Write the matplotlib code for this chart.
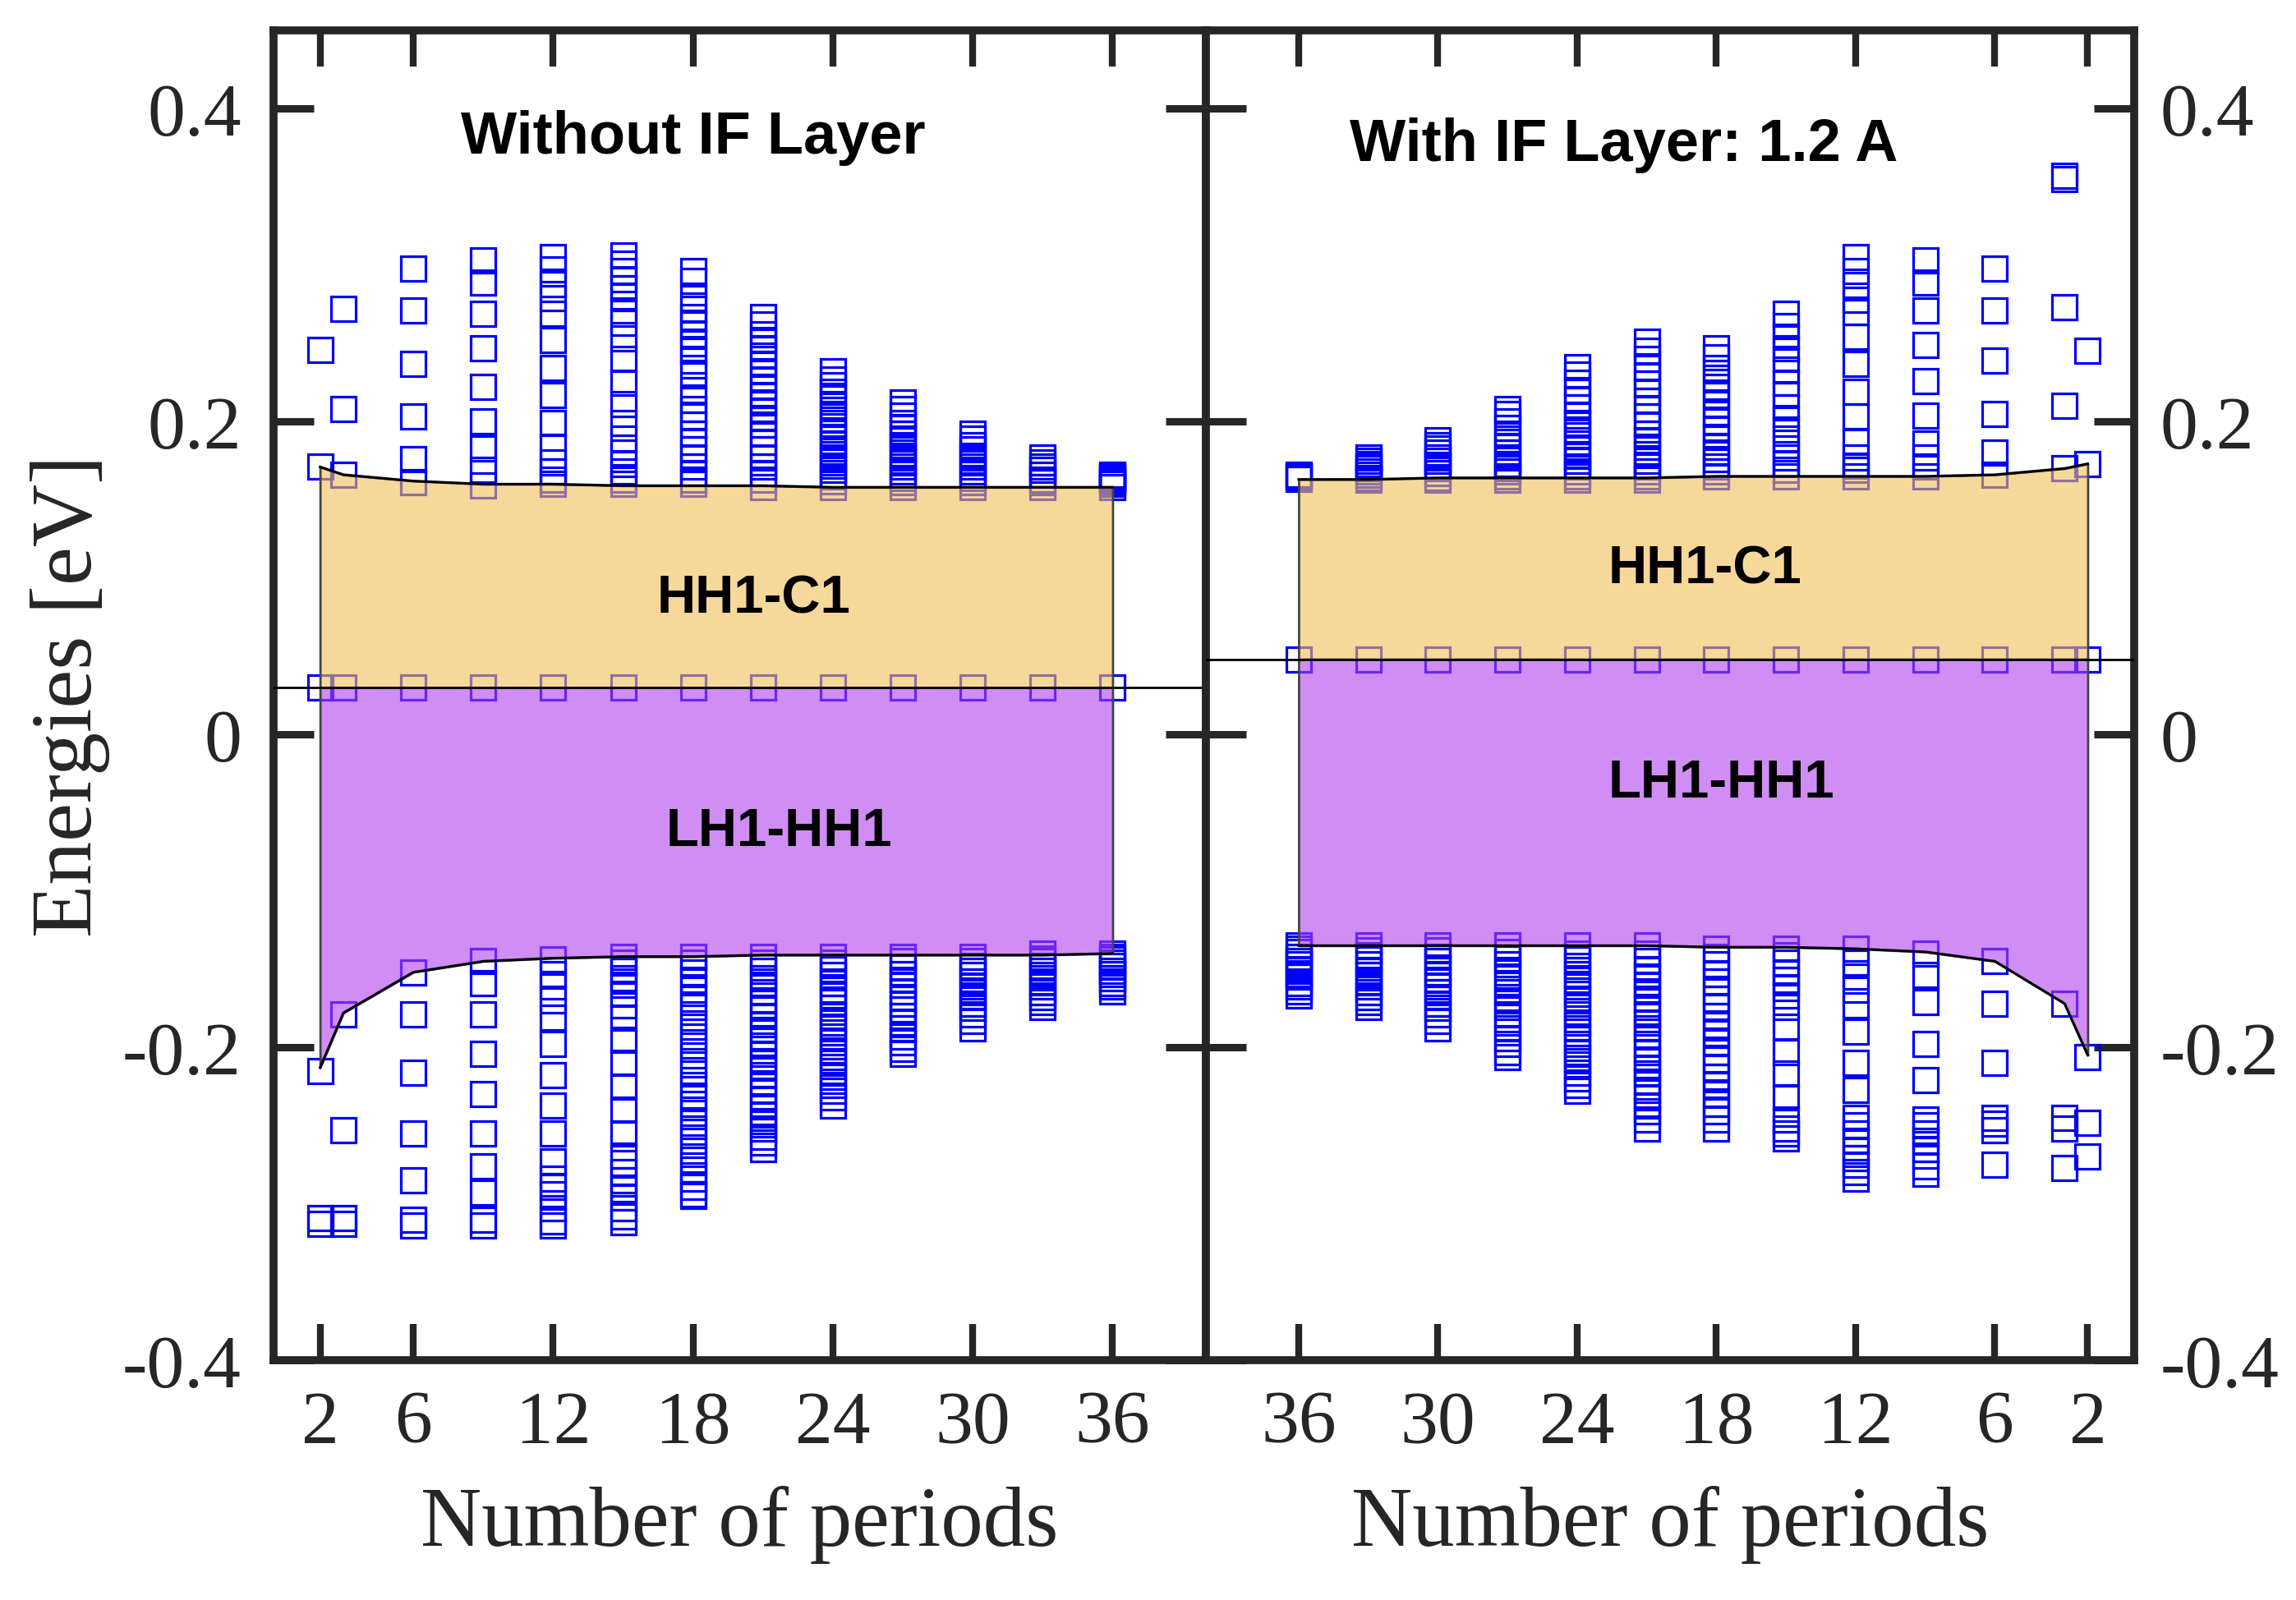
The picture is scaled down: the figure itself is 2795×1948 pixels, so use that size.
import matplotlib
matplotlib.use("Agg")
import matplotlib.pyplot as plt
from matplotlib.colors import to_rgba

plt.rcParams["font.family"] = ["Liberation Serif", "DejaVu Serif"]

# number of periods for each column of levels
periods = [2, 3, 6, 9, 12, 15, 18, 21, 24, 27, 30, 33, 36]
xtick_vals = [2, 6, 12, 18, 24, 30, 36]
ytick_vals = [-0.4, -0.2, 0, 0.2, 0.4]
ytick_labels = ["-0.4", "-0.2", "0", "0.2", "0.4"]

# ---- without IF layer ----
left_hh1 = 0.030
left_upper_edge = [0.171, 0.166, 0.162, 0.160, 0.160, 0.159, 0.159, 0.159, 0.158, 0.158, 0.158, 0.158, 0.158]
left_lower_edge = [-0.213, -0.178, -0.152, -0.145, -0.143, -0.142, -0.142, -0.141, -0.141, -0.141, -0.141, -0.141, -0.140]

left_upper = [
    [0.246, 0.171],
    [0.272, 0.208, 0.166],
    [0.298, 0.271, 0.237, 0.203, 0.176, 0.161],
    [0.303, 0.289, 0.269, 0.247, 0.222, 0.200, 0.183, 0.169, 0.159],
    [0.305, 0.297, 0.288, 0.279, 0.269, 0.252, 0.234, 0.217, 0.199, 0.184, 0.174, 0.168, 0.163, 0.160],
    [0.306, 0.301, 0.296, 0.291, 0.285, 0.280, 0.271, 0.263, 0.253, 0.240, 0.225, 0.211, 0.199, 0.189,
     0.180, 0.173, 0.168, 0.163, 0.160],
    [0.296, 0.290, 0.279, 0.272, 0.267, 0.262, 0.256, 0.250, 0.245, 0.239, 0.231, 0.220, 0.214, 0.208,
     0.203, 0.198, 0.192, 0.187, 0.182, 0.177, 0.171, 0.167, 0.163, 0.160],
    [0.267, 0.262, 0.256, 0.252, 0.247, 0.242, 0.237, 0.232, 0.227, 0.222, 0.217, 0.212, 0.207, 0.202,
     0.198, 0.192, 0.187, 0.182, 0.177, 0.171, 0.167, 0.163, 0.158],
    [0.232, 0.227, 0.223, 0.219, 0.215, 0.210, 0.205, 0.201, 0.197, 0.193, 0.190, 0.186, 0.183, 0.179,
     0.176, 0.172, 0.169, 0.165, 0.162, 0.158],
    [0.212, 0.208, 0.204, 0.199, 0.196, 0.192, 0.189, 0.185, 0.182, 0.178, 0.175, 0.171, 0.168, 0.164,
     0.161, 0.158],
    [0.192, 0.189, 0.185, 0.182, 0.178, 0.175, 0.171, 0.168, 0.164, 0.161, 0.158],
    [0.177, 0.174, 0.171, 0.169, 0.166, 0.163, 0.161, 0.158],
    [0.166, 0.1655, 0.1648, 0.1642, 0.1635, 0.1628, 0.1621, 0.161, 0.160, 0.158],
]

left_lower = [
    [-0.215, -0.309, -0.313],
    [-0.179, -0.253, -0.309, -0.313],
    [-0.152, -0.179, -0.216, -0.255, -0.285, -0.310, -0.314],
    [-0.145, -0.159, -0.179, -0.204, -0.230, -0.255, -0.276, -0.293, -0.310, -0.314],
    [-0.144, -0.153, -0.161, -0.170, -0.181, -0.198, -0.218, -0.237, -0.255, -0.273, -0.284, -0.289,
     -0.294, -0.303, -0.311, -0.314],
    [-0.142, -0.146, -0.151, -0.156, -0.160, -0.166, -0.173, -0.181, -0.195, -0.210, -0.225, -0.240,
     -0.255, -0.269, -0.274, -0.280, -0.285, -0.291, -0.296, -0.303, -0.308, -0.312],
    [-0.142, -0.146, -0.152, -0.157, -0.163, -0.169, -0.174, -0.181, -0.187, -0.193, -0.199, -0.205,
     -0.211, -0.217, -0.224, -0.231, -0.236, -0.242, -0.248, -0.254, -0.260, -0.266, -0.272, -0.278,
     -0.284, -0.289, -0.294, -0.295],
    [-0.142, -0.146, -0.151, -0.156, -0.160, -0.165, -0.170, -0.175, -0.180, -0.185, -0.189, -0.194,
     -0.199, -0.204, -0.209, -0.213, -0.218, -0.223, -0.228, -0.233, -0.238, -0.243, -0.247, -0.252,
     -0.257, -0.261, -0.265],
    [-0.142, -0.146, -0.150, -0.154, -0.159, -0.163, -0.167, -0.171, -0.175, -0.180, -0.184, -0.188,
     -0.193, -0.197, -0.202, -0.206, -0.210, -0.215, -0.219, -0.224, -0.228, -0.232, -0.237],
    [-0.142, -0.145, -0.149, -0.153, -0.157, -0.160, -0.164, -0.168, -0.172, -0.176, -0.180, -0.184,
     -0.188, -0.193, -0.197, -0.201, -0.204],
    [-0.142, -0.145, -0.148, -0.151, -0.154, -0.158, -0.161, -0.165, -0.168, -0.172, -0.175, -0.179,
     -0.183, -0.188],
    [-0.140, -0.143, -0.145, -0.148, -0.151, -0.154, -0.158, -0.161, -0.165, -0.168, -0.171, -0.174],
    [-0.140, -0.142, -0.144, -0.146, -0.148, -0.151, -0.153, -0.156, -0.159, -0.161, -0.164],
]

# ---- with IF layer 1.2 A ----
right_hh1 = 0.048
right_upper_edge = [0.173, 0.170, 0.166, 0.165, 0.165, 0.165, 0.165, 0.164, 0.164, 0.164, 0.164, 0.163, 0.163]
right_lower_edge = [-0.205, -0.172, -0.145, -0.139, -0.137, -0.136, -0.136, -0.135, -0.135, -0.135, -0.135, -0.135, -0.135]

right_upper = [
    [0.245, 0.173],
    [0.357, 0.355, 0.273, 0.210, 0.170],
    [0.298, 0.271, 0.239, 0.205, 0.180, 0.166],
    [0.303, 0.289, 0.271, 0.249, 0.226, 0.204, 0.186, 0.177, 0.171, 0.165],
    [0.305, 0.296, 0.287, 0.278, 0.270, 0.254, 0.237, 0.219, 0.203, 0.187, 0.177, 0.172, 0.169, 0.165],
    [0.269, 0.261, 0.254, 0.247, 0.240, 0.233, 0.225, 0.217, 0.209, 0.202, 0.195, 0.189, 0.183, 0.177,
     0.173, 0.169, 0.165],
    [0.247, 0.241, 0.234, 0.228, 0.222, 0.217, 0.211, 0.205, 0.200, 0.195, 0.190, 0.184, 0.180, 0.176,
     0.171, 0.168, 0.165],
    [0.251, 0.245, 0.240, 0.234, 0.229, 0.224, 0.219, 0.213, 0.208, 0.203, 0.198, 0.192, 0.188, 0.184,
     0.179, 0.175, 0.171, 0.168, 0.165, 0.163],
    [0.235, 0.230, 0.225, 0.220, 0.214, 0.209, 0.204, 0.199, 0.195, 0.191, 0.186, 0.182, 0.178, 0.175,
     0.171, 0.168, 0.165, 0.163],
    [0.208, 0.205, 0.200, 0.196, 0.191, 0.187, 0.184, 0.180, 0.177, 0.173, 0.170, 0.168, 0.165, 0.163],
    [0.188, 0.185, 0.183, 0.180, 0.177, 0.175, 0.172, 0.170, 0.167, 0.164, 0.163],
    [0.177, 0.175, 0.173, 0.171, 0.170, 0.168, 0.166, 0.164, 0.163],
    [0.166, 0.1656, 0.165, 0.1642, 0.1633],
]

right_lower = [
    [-0.206, -0.248, -0.270],
    [-0.172, -0.245, -0.252, -0.277],
    [-0.145, -0.172, -0.210, -0.245, -0.249, -0.253, -0.275],
    [-0.140, -0.154, -0.171, -0.198, -0.221, -0.246, -0.250, -0.255, -0.260, -0.265, -0.269, -0.276, -0.281],
    [-0.137, -0.146, -0.155, -0.163, -0.173, -0.190, -0.210, -0.227, -0.245, -0.250, -0.255, -0.260,
     -0.266, -0.271, -0.275, -0.280, -0.284],
    [-0.137, -0.141, -0.146, -0.152, -0.157, -0.162, -0.167, -0.174, -0.187, -0.203, -0.217, -0.232,
     -0.246, -0.252, -0.255, -0.258],
    [-0.137, -0.142, -0.147, -0.153, -0.158, -0.164, -0.169, -0.174, -0.180, -0.186, -0.191, -0.197,
     -0.203, -0.208, -0.213, -0.219, -0.224, -0.230, -0.236, -0.241, -0.246, -0.252],
    [-0.135, -0.140, -0.145, -0.150, -0.155, -0.160, -0.164, -0.169, -0.174, -0.179, -0.184, -0.188,
     -0.193, -0.198, -0.203, -0.208, -0.213, -0.217, -0.222, -0.227, -0.232, -0.237, -0.241, -0.246, -0.252],
    [-0.135, -0.140, -0.144, -0.148, -0.153, -0.157, -0.161, -0.166, -0.170, -0.174, -0.179, -0.184,
     -0.188, -0.193, -0.198, -0.203, -0.207, -0.211, -0.216, -0.220, -0.224, -0.228],
    [-0.135, -0.139, -0.143, -0.147, -0.152, -0.156, -0.160, -0.165, -0.170, -0.174, -0.179, -0.184,
     -0.188, -0.194, -0.198, -0.203, -0.206],
    [-0.135, -0.138, -0.142, -0.145, -0.149, -0.153, -0.157, -0.161, -0.165, -0.168, -0.172, -0.175,
     -0.179, -0.183, -0.188],
    [-0.135, -0.138, -0.141, -0.144, -0.147, -0.151, -0.154, -0.158, -0.161, -0.165, -0.168, -0.171, -0.174],
    [-0.135, -0.137, -0.139, -0.142, -0.145, -0.147, -0.150, -0.153, -0.155, -0.159, -0.161, -0.164, -0.167],
]

ORANGE = to_rgba("#f2be58", 0.6)
PURPLE = to_rgba("#b241ed", 0.6)
DARK = "#262626"
SANS = "Liberation Sans"

fig = plt.figure(figsize=(27.95, 19.49), dpi=100)
ax1 = fig.add_axes([0.1191, 0.1498, 0.4061, 0.8307])
ax2 = fig.add_axes([0.5252, 0.1498, 0.4043, 0.8307])


def draw_panel(ax, upper, lower, upper_edge, lower_edge, hh1):
    for n, ups, lows in zip(periods, upper, lower):
        vals = ups + [hh1] + lows
        ax.plot([n] * len(vals), vals, "s", ms=22, mfc="none", mec="#0000ff", mew=2.3, zorder=2)
    ax.fill_between(periods, hh1, upper_edge, facecolor=ORANGE, edgecolor="#444444", linewidth=2, zorder=3)
    ax.fill_between(periods, lower_edge, hh1, facecolor=PURPLE, edgecolor="#444444", linewidth=2, zorder=3)
    ax.plot(periods, upper_edge, color="black", lw=2.2, zorder=4)
    ax.plot(periods, lower_edge, color="black", lw=2.2, zorder=4)
    ax.axhline(hh1, color="black", lw=2.0, zorder=4)

    ax.set_ylim(-0.4, 0.45)
    ax.set_xticks(xtick_vals)
    ax.set_yticks(ytick_vals)
    ax.set_yticklabels(ytick_labels)
    for sp in ax.spines.values():
        sp.set_linewidth(7)
        sp.set_color(DARK)
    ax.tick_params(axis="x", direction="in", length=32, width=6, top=True, bottom=True,
                   color=DARK, labelcolor=DARK, pad=26, labelsize=66)
    ax.tick_params(axis="y", direction="in", length=35, width=6.5, left=True, right=True,
                   color=DARK, labelcolor=DARK, labelsize=66)
    ax.set_xlabel("Number of periods", fontsize=74, color=DARK)
    ax.xaxis.set_label_coords(0.5, -0.094)


draw_panel(ax1, left_upper, left_lower, left_upper_edge, left_lower_edge, left_hh1)
ax1.set_xlim(0, 40)
ax1.tick_params(axis="y", labelleft=True, labelright=False, pad=28)
ax1.set_ylabel("Energies [eV]", fontsize=76, color=DARK)
ax1.yaxis.set_label_coords(-0.175, 0.5)
ax1.text(18, 0.372, "Without IF Layer", fontsize=52, fontweight="bold", fontfamily=SANS,
         ha="center", va="baseline", zorder=5)
ax1.text(20.6, 0.078, "HH1-C1", fontsize=47, fontweight="bold", fontfamily=SANS,
         ha="center", va="baseline", zorder=5)
ax1.text(21.7, -0.071, "LH1-HH1", fontsize=47, fontweight="bold", fontfamily=SANS,
         ha="center", va="baseline", zorder=5)

draw_panel(ax2, right_upper, right_lower, right_upper_edge, right_lower_edge, right_hh1)
ax2.set_xlim(40, 0)
ax2.tick_params(axis="y", labelleft=False, labelright=True, pad=23)
ax2.text(22, 0.367, "With IF Layer: 1.2 A", fontsize=52, fontweight="bold", fontfamily=SANS,
         ha="center", va="baseline", zorder=5)
ax2.text(18.5, 0.097, "HH1-C1", fontsize=47, fontweight="bold", fontfamily=SANS,
         ha="center", va="baseline", zorder=5)
ax2.text(17.8, -0.040, "LH1-HH1", fontsize=47, fontweight="bold", fontfamily=SANS,
         ha="center", va="baseline", zorder=5)

fig.savefig("out.png", dpi=100)
